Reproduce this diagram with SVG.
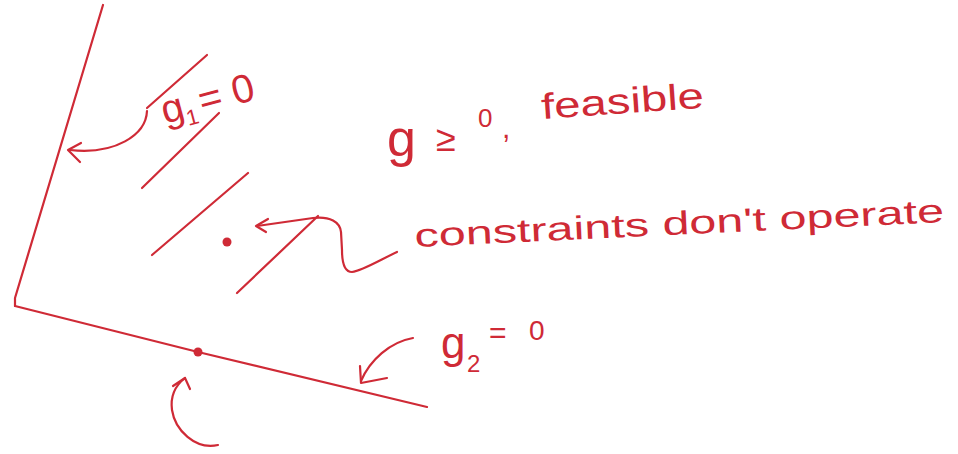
<svg xmlns="http://www.w3.org/2000/svg" width="958" height="454" viewBox="0 0 958 454">
<style>
.ink{fill:none;stroke:#cf2a36;stroke-width:2.2;stroke-linecap:round;stroke-linejoin:round}
.dot{fill:#cf2a36}
.t{fill:#cf2a36;font-family:"Liberation Sans","DejaVu Sans",sans-serif}
</style>
<rect width="958" height="454" fill="#ffffff"/>
<g id="constraint-g1">
<path class="ink" d="M103,5 L15,298 L15,306"/>
</g>
<g id="constraint-g2">
<path class="ink" d="M15,306 L198,352 L427,407"/>
</g>
<g id="hatching">
<path class="ink" d="M207,55 L147,108"/>
<path class="ink" d="M219,113 L142,188"/>
<path class="ink" d="M248,173 L152,255"/>
<path class="ink" d="M318,216 L237,293"/>
</g>
<g id="interior-point"><circle class="dot" cx="227" cy="242" r="4.5"/></g>
<g id="boundary-point"><circle class="dot" cx="198" cy="352" r="4.5"/></g>
<g id="label-g1">
<text class="t" font-size="40" transform="translate(165,124) rotate(-15)">g<tspan font-size="22" dy="8">1</tspan><tspan dy="-8" dx="4">= 0</tspan></text>
</g>
<g id="label-feasible">
<text class="t"><tspan x="387" y="156" font-size="52">g</tspan><tspan x="436" y="151" font-size="36">≥</tspan><tspan x="478" y="127" font-size="26">0</tspan><tspan x="502" y="138" font-size="30">,</tspan></text>
<text class="t" font-size="36" textLength="163" lengthAdjust="spacingAndGlyphs" transform="translate(542,119) rotate(-4)">feasible</text>
</g>
<g id="label-operate">
<text class="t" font-size="33" textLength="530" lengthAdjust="spacingAndGlyphs" transform="translate(415,247) rotate(-2.7)">constraints don't operate</text>
</g>
<g id="label-g2">
<text class="t"><tspan x="441" y="358" font-size="44">g</tspan><tspan x="467" y="372" font-size="24">2</tspan><tspan x="489" y="343" font-size="30">=</tspan><tspan x="529" y="340" font-size="28">0</tspan></text>
</g>
<g id="connectors">
<path class="ink" d="M147,111 C146,135 115,155 70,150"/>
<path class="ink" d="M81,143 L68,150 L80,162"/>
<path class="ink" d="M397,252 C380,260 362,271 352,272 C344,272 342,262 342,250 L341,232 C340,222 330,216 313,218 L257,226"/>
<path class="ink" d="M268,219 L256,226 L266,232"/>
<path class="ink" d="M413,338 C390,342 370,360 361,381"/>
<path class="ink" d="M360,366 L361,383 L387,378"/>
<path class="ink" d="M218,445 C195,450 175,430 172,410 C170,395 176,385 185,378"/>
<path class="ink" d="M173,386 L185,378 L190,389"/>
</g>
</svg>
